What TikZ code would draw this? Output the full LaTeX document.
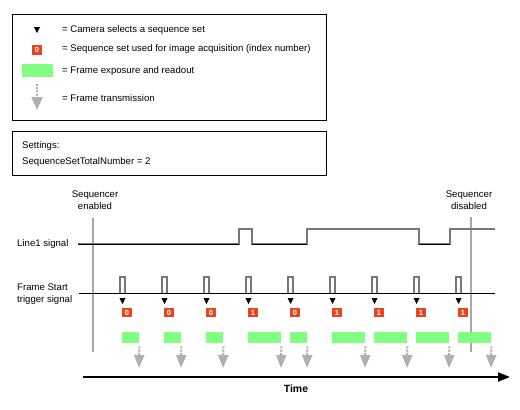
\documentclass[tikz,border=0pt]{standalone}
\usepackage{fontspec}
\setmainfont{Liberation Sans}
\usetikzlibrary{arrows.meta,positioning}
\definecolor{seq-red}{HTML}{E8441E}
\definecolor{frame-green}{HTML}{80FF80}
\definecolor{xmit-gray}{HTML}{B0B0B0}
\definecolor{marker-gray}{HTML}{A8A8A8}
\definecolor{pulse-gray}{HTML}{777777}
\tikzset{
  txt/.style={anchor=west, inner sep=0pt, font=\fontsize{9.6}{12}\selectfont},
  setnum/.style={fill=seq-red, text=white, inner sep=0pt, minimum width=10pt,
    minimum height=9pt, font=\fontsize{7.5}{7.5}\selectfont\bfseries},
  frameshort/.style={fill=frame-green, inner sep=0pt, minimum width=17pt,
    minimum height=11pt, anchor=north west},
  framelong/.style={frameshort, minimum width=33pt},
  xmit/.style={xmit-gray, line width=2.2pt, dash pattern=on 2pt off 1.2pt,
    -{Triangle[width=10pt,length=13pt,sep=0pt]}},
  selmark/.pic={\fill (-3,-3) -- (3,-3) -- (0,3) -- cycle;},
  seqline/.style={marker-gray, line width=1.3pt},
  wave/.style={pulse-gray, line width=1.2pt}
}

\begin{document}
\begin{tikzpicture}[x=1pt, y=-1pt]
    \useasboundingbox (0,0) rectangle (520,410);

    % legend
    \node[draw=black, line width=0.8pt, minimum width=314pt, minimum height=106pt,
      inner sep=0pt, anchor=north west] (legend) at (12,14) {};
    \pic at (37,30) {selmark};
    \node[txt] (lsel) at (62,30) {= Camera selects a sequence set};
    \node[setnum, minimum height=10pt] (lnum) at (37,49.5) {0};
    \node[txt] (lset) at (62,49) {= Sequence set used for image acquisition (index number)};
    \node[fill=frame-green, inner sep=0pt, minimum width=31pt, minimum height=13pt] (lframe) at (37.5,70.5) {};
    \node[txt] (lexp) at (62,71) {= Frame exposure and readout};
    \coordinate (lxs) at (37,84);
    \coordinate (lxe) at (37,110);
    \draw[xmit, -{Triangle[width=11pt,length=13pt,sep=0pt]}] (lxs) -- (lxe);
    \node[txt] (ltrans) at (62,98) {= Frame transmission};

    % settings
    \node[draw=black, line width=0.8pt, minimum width=314pt, minimum height=44pt,
      inner sep=0pt, anchor=north west] (settings) at (12,131) {};
    \node[txt] (sethead) at (22,146) {Settings:};
    \node[txt] (setval) at (22,162) {SequenceSetTotalNumber = 2};

    % sequencer markers
    \coordinate (en1) at (93,218);
    \coordinate (en2) at (93,352);
    \draw[seqline] (en1) -- (en2);
    \node[align=center, inner sep=0pt, font=\fontsize{9.6}{12}\selectfont] (enlbl) at (95,200) {Sequencer\\enabled};
    \coordinate (dis1) at (471,217);
    \coordinate (dis2) at (471,352);
    \draw[seqline] (dis1) -- (dis2);
    \node[align=center, inner sep=0pt, font=\fontsize{9.6}{12}\selectfont] (dislbl) at (469,200) {Sequencer\\disabled};

    % Line1 signal
    \node[txt] (l1lbl) at (17,244) {Line1 signal};
    \draw[wave] (78,244) -- (239,244) -- (239,229) -- (252,229) -- (252,244)
      -- (307,244) -- (307,229) -- (419,229) -- (419,244) -- (450,244)
      -- (450,229) -- (495,229);
    \draw[black, line width=0.7pt] (78,244) -- (239,244) (252,244) -- (307,244) (419,244) -- (450,244);

    % Frame Start trigger signal
    \node[txt, align=left] (fslbl) at (17,294) {Frame Start\\trigger signal};
    \draw[wave] (120,293) -- ++(0,-16) -- ++(5,0) -- ++(0,16)
      (162,293) -- ++(0,-16) -- ++(5,0) -- ++(0,16)
      (204,293) -- ++(0,-16) -- ++(5,0) -- ++(0,16)
      (246,293) -- ++(0,-16) -- ++(5,0) -- ++(0,16)
      (288,293) -- ++(0,-16) -- ++(5,0) -- ++(0,16)
      (330,293) -- ++(0,-16) -- ++(5,0) -- ++(0,16)
      (372,293) -- ++(0,-16) -- ++(5,0) -- ++(0,16)
      (414,293) -- ++(0,-16) -- ++(5,0) -- ++(0,16)
      (456,293) -- ++(0,-16) -- ++(5,0) -- ++(0,16);
    \draw[black, line width=0.7pt] (79,293) -- (495,293);

    % sequence set selection
    \pic at (122.5,301) {selmark};
    \pic at (164.5,301) {selmark};
    \pic at (206.5,301) {selmark};
    \pic at (248.5,301) {selmark};
    \pic at (290.5,301) {selmark};
    \pic at (332.5,301) {selmark};
    \pic at (374.5,301) {selmark};
    \pic at (416.5,301) {selmark};
    \pic at (458.5,301) {selmark};
    \node[setnum] (s1) at (127,312.5) {0};
    \node[setnum] (s2) at (169,312.5) {0};
    \node[setnum] (s3) at (211,312.5) {0};
    \node[setnum] (s4) at (253,312.5) {1};
    \node[setnum] (s5) at (295,312.5) {0};
    \node[setnum] (s6) at (337,312.5) {1};
    \node[setnum] (s7) at (379,312.5) {1};
    \node[setnum] (s8) at (421,312.5) {1};
    \node[setnum] (s9) at (463,312.5) {1};

    % frames
    \node[frameshort] (f1) at (122,332) {};
    \node[frameshort] (f2) at (164,332) {};
    \node[frameshort] (f3) at (206,332) {};
    \node[framelong] (f4) at (248,332) {};
    \node[frameshort] (f5) at (290,332) {};
    \node[framelong] (f6) at (332,332) {};
    \node[framelong] (f7) at (374,332) {};
    \node[framelong] (f8) at (416,332) {};
    \node[framelong] (f9) at (458,332) {};

    % frame transmission
    \coordinate (t1) at (139,368);
    \coordinate (t2) at (181,368);
    \coordinate (t3) at (223,368);
    \coordinate (t4) at (281,368);
    \coordinate (t5) at (307,368);
    \coordinate (t6) at (365,368);
    \coordinate (t7) at (407,368);
    \coordinate (t8) at (449,368);
    \coordinate (t9) at (491,368);
    \draw[xmit] ([yshift=-3pt]f1.south east) -- (t1);
    \draw[xmit] ([yshift=-3pt]f2.south east) -- (t2);
    \draw[xmit] ([yshift=-3pt]f3.south east) -- (t3);
    \draw[xmit] ([yshift=-3pt]f4.south east) -- (t4);
    \draw[xmit] ([yshift=-3pt]f5.south east) -- (t5);
    \draw[xmit] ([yshift=-3pt]f6.south east) -- (t6);
    \draw[xmit] ([yshift=-3pt]f7.south east) -- (t7);
    \draw[xmit] ([yshift=-3pt]f8.south east) -- (t8);
    \draw[xmit] ([yshift=-3pt]f9.south east) -- (t9);

    % time axis
    \coordinate (ts) at (83,377);
    \coordinate (te) at (510,377);
    \draw[line width=2pt, -{Triangle[width=9pt,length=12pt]}] (ts) -- (te);
    \node[inner sep=0pt, font=\fontsize{10.5}{12}\selectfont\bfseries] (tlbl) at (296,389) {Time};
\end{tikzpicture}
\end{document}
